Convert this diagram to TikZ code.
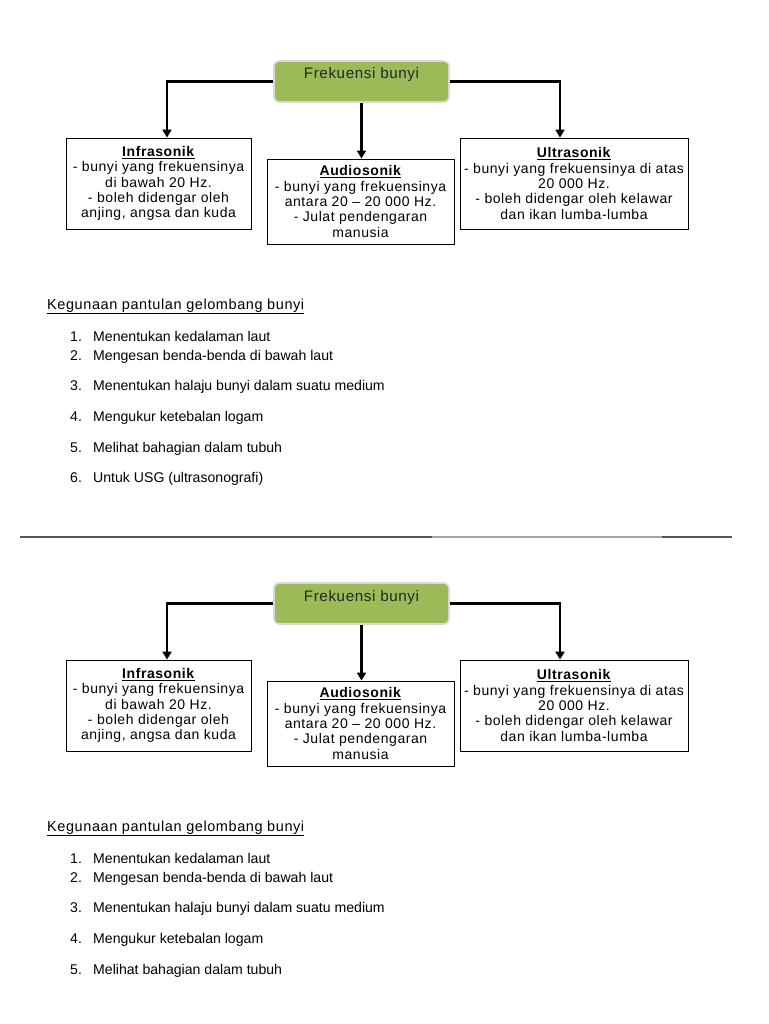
\documentclass[tikz,border=0pt]{standalone}
\usepackage{fontspec}
\setmainfont{Liberation Sans}
\newfontfamily\boxfont[LetterSpace=4]{Liberation Sans}
\newfontfamily\headfont[LetterSpace=4]{Liberation Sans}
\usetikzlibrary{arrows.meta,calc}
\definecolor{olive}{HTML}{9BBB59}
\definecolor{glow}{HTML}{D9D9D9}
\definecolor{linedark}{HTML}{555555}
\definecolor{linelight}{HTML}{A6A6A6}
\tikzset{
  topbox/.style={rectangle, rounded corners=5pt, fill=olive, draw=glow, line width=1.6pt,
    minimum width=175pt, minimum height=41pt, text height=11pt, text depth=16pt,
    font=\fontsize{15.2}{17}\headfont, text=black!85},
  infobox/.style={rectangle, draw=black, line width=0.9pt, align=center, inner sep=0pt,
    font=\fontsize{14}{15.3}\boxfont},
  conn/.style={draw=black, line width=2.6pt},
  arr/.style={conn, -{Triangle[width=9pt,length=8pt]}},
  itemtxt/.style={anchor=base west, inner sep=0pt, font=\fontsize{14.1}{15}\selectfont},
  headtxt/.style={anchor=base west, inner sep=0pt, font=\fontsize{14.5}{17}\headfont},
}
\newcommand\mydiagram[3]{%
\begin{scope}[yshift=-#2pt]
  \node[topbox] (fb#1) at (361.5,81.5) {Frekuensi bunyi};
  \node[infobox, minimum width=185pt, minimum height=91pt] (inf#1) at (158.5,183.5)
    {\underline{\textbf{Infrasonik}}\\- bunyi yang frekuensinya\\di bawah 20 Hz.\\- boleh didengar oleh\\anjing, angsa dan kuda};
  \node[infobox, minimum width=187pt, minimum height=85pt] (aud#1) at (360.5,201.5)
    {\underline{\textbf{Audiosonik}}\\- bunyi yang frekuensinya\\antara 20 \textendash\ 20 000 Hz.\\- Julat pendengaran\\manusia};
  \node[infobox, minimum width=228pt, minimum height=91pt] (ult#1) at (574,183.5)
    {\underline{\textbf{Ultrasonik}}\\- bunyi yang frekuensinya di atas\\20 000 Hz.\\- boleh didengar oleh kelawar\\dan ikan lumba-lumba};
  \draw[arr] (fb#1.west) -| ([xshift=8.5pt]inf#1.north);
  \draw[arr] (fb#1.east) -| ([xshift=-14pt]ult#1.north);
  \draw[arr] (fb#1.south) -- (fb#1.south |- aud#1.north);
  \node[headtxt] (kh#1) at (47,309) {\underline{Kegunaan pantulan gelombang bunyi}};
  \foreach \n/\y/\t in {#3} {
    \node[itemtxt] (num\n#1) at (70,\y) {\n.};
    \node[itemtxt] (it\n#1) at (93,\y) {\t};
  }
\end{scope}}
\begin{document}
\begin{tikzpicture}[x=1pt,y=-1pt]
\useasboundingbox[fill=white] (0,0) rectangle (768,1024);
\mydiagram{a}{0}{1/341/Menentukan kedalaman laut,2/360/Mengesan benda-benda di bawah laut,3/390/Menentukan halaju bunyi dalam suatu medium,4/421/Mengukur ketebalan logam,5/452/Melihat bahagian dalam tubuh,6/482/Untuk USG (ultrasonografi)}
\mydiagram{b}{522}{1/341/Menentukan kedalaman laut,2/360/Mengesan benda-benda di bawah laut,3/390/Menentukan halaju bunyi dalam suatu medium,4/421/Mengukur ketebalan logam,5/452/Melihat bahagian dalam tubuh}
\coordinate (s1) at (20,537);
\coordinate (s2) at (432,537);
\coordinate (s3) at (662,537);
\coordinate (s4) at (732,537);
\draw[linedark, line width=1.6pt] (s1) -- (s2);
\draw[linelight, line width=1.6pt] (s2) -- (s3);
\draw[linedark, line width=1.6pt] (s3) -- (s4);
\end{tikzpicture}
\end{document}
